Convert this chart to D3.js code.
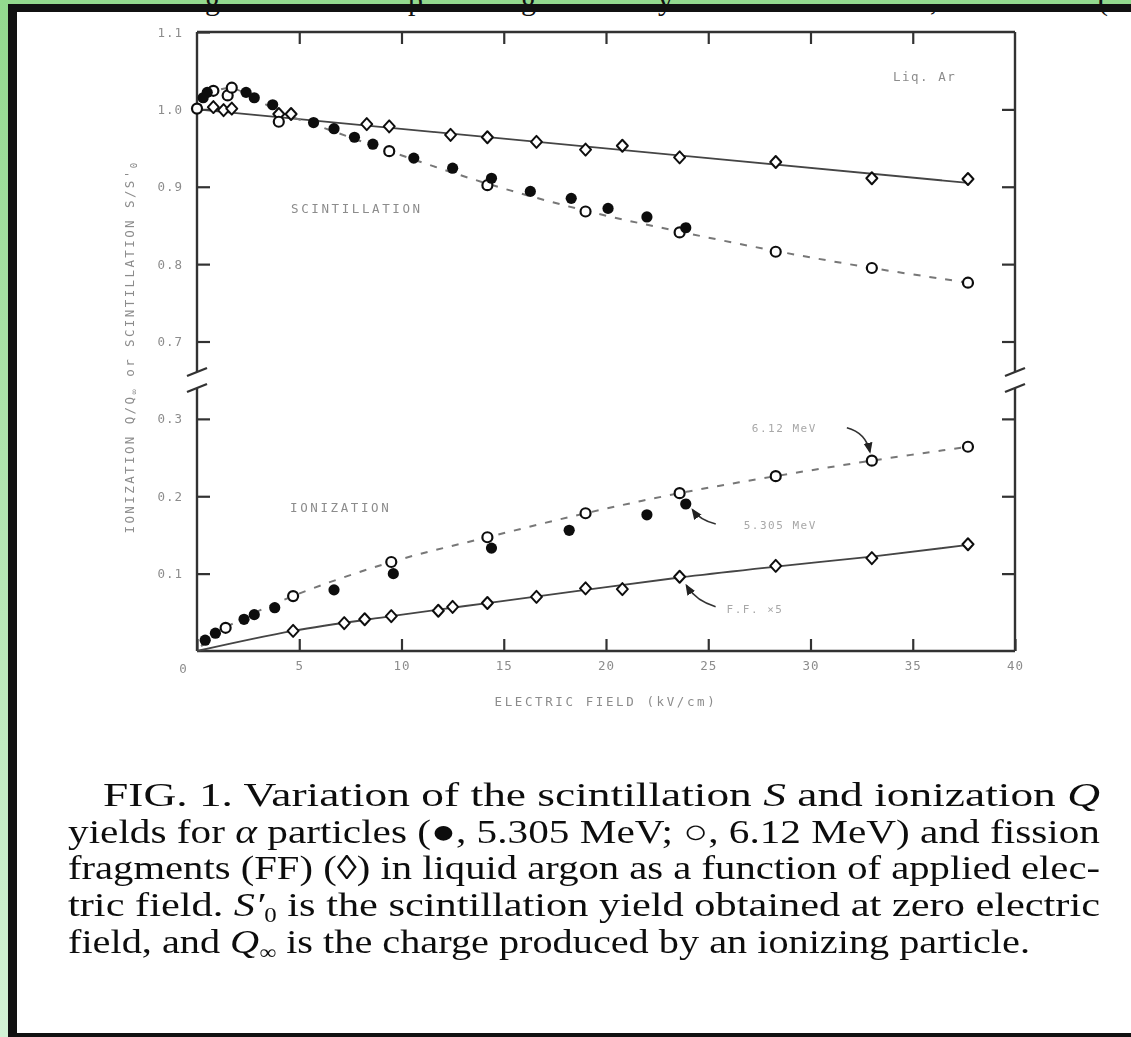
<!DOCTYPE html>
<html>
<head>
<meta charset="utf-8">
<script src="https://cdn.jsdelivr.net/npm/d3@7"></script>
<style>
body { margin: 0; background: linear-gradient(#93d98e, #d3f2d5); }
svg { display: block; }
</style>
</head>
<body>
<svg id="chart" width="1131" height="1037"></svg>
<script>
// axis ticks
var xTicks = [0, 5, 10, 15, 20, 25, 30, 35, 40];
var yTicksHigh = [0.7, 0.8, 0.9, 1.0, 1.1];
var yTicksLow = [0.1, 0.2, 0.3];

// scintillation S/S'0 -- alpha 5.305 MeV (filled dots)
var scintA5X = [0.3, 0.5, 2.4, 2.8, 3.7, 5.7, 6.7, 7.7, 8.6, 10.6, 12.5, 14.4, 16.3, 18.3, 20.1, 22.0, 23.9];
var scintA5Y = [1.015, 1.022, 1.022, 1.015, 1.006, 0.983, 0.975, 0.964, 0.955, 0.937, 0.924, 0.911, 0.894, 0.885, 0.872, 0.861, 0.847];
// scintillation -- alpha 6.12 MeV (open circles)
var scintA6X = [0, 0.8, 1.5, 1.7, 4.0, 9.4, 14.2, 19.0, 23.6, 28.3, 33.0, 37.7];
var scintA6Y = [1.001, 1.024, 1.018, 1.028, 0.984, 0.946, 0.902, 0.868, 0.841, 0.816, 0.795, 0.776];
// scintillation -- fission fragments (diamonds)
var scintFFX = [0.8, 1.3, 1.7, 4.0, 4.6, 8.3, 9.4, 12.4, 14.2, 16.6, 19.0, 20.8, 23.6, 28.3, 33.0, 37.7];
var scintFFY = [1.003, 0.999, 1.001, 0.994, 0.994, 0.981, 0.978, 0.967, 0.964, 0.958, 0.948, 0.953, 0.938, 0.932, 0.911, 0.910];
// drawn curves (scintillation)
var scintFFLineX = [0, 37.7];
var scintFFLineY = [1.0, 0.905];
var scintACurveX = [0, 0.8, 1.7, 2.8, 4.0, 6.0, 9.4, 14.2, 19.0, 23.6, 28.3, 33.0, 37.7];
var scintACurveY = [1.0, 1.022, 1.027, 1.015, 0.997, 0.978, 0.946, 0.904, 0.869, 0.842, 0.817, 0.795, 0.776];

// ionization Q/Q_inf -- alpha 5.305 MeV (filled)
var ionA5X = [0.4, 0.9, 2.3, 2.8, 3.8, 6.7, 9.6, 14.4, 18.2, 22.0, 23.9];
var ionA5Y = [0.014, 0.023, 0.041, 0.047, 0.056, 0.079, 0.100, 0.133, 0.156, 0.176, 0.190];
// ionization -- alpha 6.12 MeV (open)
var ionA6X = [1.4, 4.7, 9.5, 14.2, 19.0, 23.6, 28.3, 33.0, 37.7];
var ionA6Y = [0.030, 0.071, 0.115, 0.147, 0.178, 0.204, 0.226, 0.246, 0.264];
// ionization -- fission fragments (diamonds)
var ionFFX = [4.7, 7.2, 8.2, 9.5, 11.8, 12.5, 14.2, 16.6, 19.0, 20.8, 23.6, 28.3, 33.0, 37.7];
var ionFFY = [0.026, 0.036, 0.041, 0.045, 0.052, 0.057, 0.062, 0.070, 0.081, 0.080, 0.096, 0.110, 0.120, 0.138];
// drawn curves (ionization)
var ionFFLineX = [0, 4.7, 9.5, 14.2, 19.0, 23.6, 28.3, 33.0, 37.7];
var ionFFLineY = [0, 0.026, 0.045, 0.062, 0.079, 0.095, 0.109, 0.122, 0.137];
var ionACurveX = [0.2, 1.4, 4.7, 9.5, 14.2, 19.0, 23.6, 28.3, 33.0, 37.7];
var ionACurveY = [0.006, 0.030, 0.071, 0.115, 0.147, 0.178, 0.204, 0.226, 0.246, 0.264];

var svg = d3.select("#chart");

var defs = svg.append("defs");
defs.append("filter").attr("id", "soft")
    .append("feGaussianBlur").attr("stdDeviation", 0.7);
defs.append("filter").attr("id", "softer")
    .append("feGaussianBlur").attr("stdDeviation", 0.35);
defs.append("marker").attr("id", "head")
    .attr("viewBox", "0 0 10 10").attr("refX", 8).attr("refY", 5)
    .attr("markerWidth", 7).attr("markerHeight", 7).attr("orient", "auto")
    .append("path").attr("d", "M0,1 L10,5 L0,9 Z").attr("fill", "#222");

// page + frame
svg.append("rect").attr("x", 17).attr("y", 12).attr("width", 1120).attr("height", 1021).attr("fill", "#fff");
// bottom of a cut-off text line above the frame
var cut = svg.append("g").attr("font-family", "Liberation Serif").attr("font-size", 30).attr("fill", "#111");
[["g", 205], ["p", 408], ["g", 521], ["y", 658], [",", 930], ["(", 1098]].forEach(function(c) {
    cut.append("text").attr("x", c[1]).attr("y", 10).text(c[0]);
});
svg.append("rect").attr("x", 8).attr("y", 4).attr("width", 1130).attr("height", 8).attr("fill", "#111");
svg.append("rect").attr("x", 8).attr("y", 4).attr("width", 9).attr("height", 1040).attr("fill", "#111");
svg.append("rect").attr("x", 8).attr("y", 1033).attr("width", 1130).attr("height", 6).attr("fill", "#111");

var left = 197, right = 1015, plotTop = 32, bottom = 651;
var x = d3.scaleLinear().domain([0, 40]).range([left, right]);
var yLow = d3.scaleLinear().domain([0, 0.3]).range([bottom, bottom - 0.3 * 773.75]);
var yHigh = d3.scaleLinear().domain([0.7, 1.1]).range([bottom - 0.4 * 773.75, plotTop]);

var g = svg.append("g").attr("filter", "url(#soft)");

// axes
var tickFont = "DejaVu Sans Mono";
function styleAxis(sel) {
    sel.select(".domain").remove();
    sel.selectAll(".tick line").attr("stroke", "#333").attr("stroke-width", 2.2);
    sel.selectAll(".tick text").attr("fill", "#8c8c8c").attr("font-family", tickFont)
        .attr("font-size", 12.5).attr("letter-spacing", 1);
}
g.append("g").attr("transform", "translate(0," + bottom + ")")
    .call(d3.axisBottom(x).tickValues(xTicks).tickSize(-12).tickSizeOuter(0).tickPadding(10)
        .tickFormat(function(d) { return d === 0 ? "" : d; }))
    .call(styleAxis);
g.append("g").attr("transform", "translate(0," + plotTop + ")")
    .call(d3.axisTop(x).tickValues(xTicks.slice(1, -1)).tickSize(-12).tickSizeOuter(0).tickFormat(""))
    .call(styleAxis);
g.append("g").attr("transform", "translate(" + left + ",0)")
    .call(d3.axisLeft(yHigh).tickValues(yTicksHigh).tickSize(-13).tickSizeOuter(0).tickPadding(14)
        .tickFormat(d3.format(".1f")))
    .call(styleAxis);
g.append("g").attr("transform", "translate(" + left + ",0)")
    .call(d3.axisLeft(yLow).tickValues(yTicksLow).tickSize(-13).tickSizeOuter(0).tickPadding(14)
        .tickFormat(d3.format(".1f")))
    .call(styleAxis);
g.append("g").attr("transform", "translate(" + right + ",0)")
    .call(d3.axisRight(yHigh).tickValues(yTicksHigh.slice(0, -1)).tickSize(-13).tickSizeOuter(0).tickFormat(""))
    .call(styleAxis);
g.append("g").attr("transform", "translate(" + right + ",0)")
    .call(d3.axisRight(yLow).tickValues(yTicksLow).tickSize(-13).tickSizeOuter(0).tickFormat(""))
    .call(styleAxis);
g.append("text").attr("x", x(0) - 14).attr("y", bottom + 22).attr("text-anchor", "middle")
    .attr("fill", "#8c8c8c").attr("font-family", tickFont).attr("font-size", 12.5).text("0");

// frame lines with the axis break
var brkA = 372, brkB = 388;
var frame = g.append("g").attr("stroke", "#333").attr("stroke-width", 2.4).attr("fill", "none");
frame.append("line").attr("x1", left).attr("x2", right).attr("y1", plotTop).attr("y2", plotTop);
frame.append("line").attr("x1", left).attr("x2", right).attr("y1", bottom).attr("y2", bottom);
[left, right].forEach(function(px) {
    frame.append("line").attr("x1", px).attr("x2", px).attr("y1", plotTop).attr("y2", brkA);
    frame.append("line").attr("x1", px).attr("x2", px).attr("y1", brkB).attr("y2", bottom);
    frame.append("line").attr("x1", px - 10).attr("x2", px + 10).attr("y1", brkA + 4).attr("y2", brkA - 4);
    frame.append("line").attr("x1", px - 10).attr("x2", px + 10).attr("y1", brkB + 4).attr("y2", brkB - 4);
});

// curves
function pts(xs, ys) { return xs.map(function(v, i) { return [v, ys[i]]; }); }
function lineFor(ys, curve) {
    return d3.line().x(function(d) { return x(d[0]); }).y(function(d) { return ys(d[1]); }).curve(curve);
}
g.append("path").datum(pts(scintFFLineX, scintFFLineY))
    .attr("d", lineFor(yHigh, d3.curveLinear)).attr("fill", "none").attr("stroke", "#444").attr("stroke-width", 1.8);
g.append("path").datum(pts(scintACurveX, scintACurveY))
    .attr("d", lineFor(yHigh, d3.curveCatmullRom)).attr("fill", "none").attr("stroke", "#777")
    .attr("stroke-width", 2).attr("stroke-dasharray", "7,9");
g.append("path").datum(pts(ionFFLineX, ionFFLineY))
    .attr("d", lineFor(yLow, d3.curveMonotoneX)).attr("fill", "none").attr("stroke", "#444").attr("stroke-width", 1.8);
g.append("path").datum(pts(ionACurveX, ionACurveY))
    .attr("d", lineFor(yLow, d3.curveCatmullRom)).attr("fill", "none").attr("stroke", "#777")
    .attr("stroke-width", 2).attr("stroke-dasharray", "7,9");

// markers
var diamond = "M0,-6 L5.5,0 L0,6 L-5.5,0 Z";
function diamonds(xs, ys, yScale) {
    g.append("g").selectAll("path").data(pts(xs, ys)).enter().append("path")
        .attr("d", diamond)
        .attr("transform", function(d) { return "translate(" + x(d[0]) + "," + yScale(d[1]) + ")"; })
        .attr("fill", "#fff").attr("stroke", "#111").attr("stroke-width", 2).attr("stroke-linejoin", "round");
}
function circles(xs, ys, yScale, filled) {
    g.append("g").selectAll("circle").data(pts(xs, ys)).enter().append("circle")
        .attr("cx", function(d) { return x(d[0]); })
        .attr("cy", function(d) { return yScale(d[1]); })
        .attr("r", filled ? 5.6 : 5)
        .attr("fill", filled ? "#111" : "#fff")
        .attr("stroke", "#111").attr("stroke-width", filled ? 0 : 2.2);
}
diamonds(scintFFX, scintFFY, yHigh);
diamonds(ionFFX, ionFFY, yLow);
circles(scintA6X, scintA6Y, yHigh, false);
circles(ionA6X, ionA6Y, yLow, false);
circles(scintA5X, scintA5Y, yHigh, true);
circles(ionA5X, ionA5Y, yLow, true);

// labels
var lab = g.append("g").attr("fill", "#8c8c8c").attr("font-family", tickFont).attr("font-size", 12.5);
lab.append("text").attr("x", 291).attr("y", 213).attr("letter-spacing", 2.6).text("SCINTILLATION");
lab.append("text").attr("x", 290).attr("y", 512).attr("letter-spacing", 2.6).text("IONIZATION");
lab.append("text").attr("x", 893).attr("y", 81).attr("letter-spacing", 1.5).text("Liq. Ar");
lab.append("text").attr("x", x(20)).attr("y", 706).attr("text-anchor", "middle").attr("letter-spacing", 2.6)
    .text("ELECTRIC FIELD  (kV/cm)");
var yt = lab.append("text").attr("transform", "translate(134,347) rotate(-90)")
    .attr("text-anchor", "middle").attr("letter-spacing", 2.4);
yt.append("tspan").text("IONIZATION Q/Q");
yt.append("tspan").attr("font-size", 9).attr("dy", 3).text("\u221E");
yt.append("tspan").attr("dy", -3).text("  or  SCINTILLATION S/S'");
yt.append("tspan").attr("font-size", 9).attr("dy", 3).text("0");

// curve annotations with arrows
var note = g.append("g").attr("fill", "#a8a8a8").attr("font-family", tickFont).attr("font-size", 11).attr("letter-spacing", 1.5);
var arr = g.append("g").attr("fill", "none").attr("stroke", "#333").attr("stroke-width", 1.6);
var p1 = [x(33.0), yLow(0.246)];
note.append("text").attr("x", p1[0] - 120).attr("y", p1[1] - 29).text("6.12 MeV");
arr.append("path").attr("d", "M" + (p1[0] - 25) + "," + (p1[1] - 33) + " Q" + (p1[0] - 6) + "," + (p1[1] - 28) + " " + (p1[0] - 2) + "," + (p1[1] - 9))
    .attr("marker-end", "url(#head)");
var p2 = [x(23.9), yLow(0.190)];
note.append("text").attr("x", p2[0] + 58).attr("y", p2[1] + 25).text("5.305 MeV");
arr.append("path").attr("d", "M" + (p2[0] + 30) + "," + (p2[1] + 20) + " Q" + (p2[0] + 14) + "," + (p2[1] + 16) + " " + (p2[0] + 7) + "," + (p2[1] + 6))
    .attr("marker-end", "url(#head)");
var p3 = [x(23.6), yLow(0.096)];
note.append("text").attr("x", p3[0] + 47).attr("y", p3[1] + 36).text("F.F. \u00D75");
arr.append("path").attr("d", "M" + (p3[0] + 36) + "," + (p3[1] + 30) + " Q" + (p3[0] + 16) + "," + (p3[1] + 24) + " " + (p3[0] + 7) + "," + (p3[1] + 9))
    .attr("marker-end", "url(#head)");

// caption
var cap = svg.append("g").attr("filter", "url(#softer)").attr("font-family", "Liberation Serif")
    .attr("font-size", 34).attr("fill", "#111");
function capLine(x0, y0, w, parts) {
    var t = cap.append("text").attr("x", x0).attr("y", y0);
    if (w) t.attr("textLength", w).attr("lengthAdjust", "spacingAndGlyphs");
    parts.forEach(function(p) {
        var s = t.append("tspan").text(p[0]);
        if (p[1] === "i") s.attr("font-style", "italic");
        if (p[1] === "sub") s.attr("font-size", 20).attr("dy", 6);
        if (p[1] === "up") s.attr("dy", -6);
    });
}
capLine(103, 806, 997, [["FIG. 1.  Variation of the scintillation "], ["S", "i"], [" and ionization "], ["Q", "i"]]);
capLine(68, 843, 1032, [["yields for "], ["\u03B1", "i"], [" particles (\u25CF, 5.305 MeV; \u25CB, 6.12 MeV) and fission"]]);
capLine(68, 879, 1032, [["fragments (FF) (\u25CA) in liquid argon as a function of applied elec-"]]);
capLine(68, 916, 1032, [["tric field.  "], ["S\u2032", "i"], ["0", "sub"], [" is the scintillation yield obtained at zero electric", "up"]]);
capLine(68, 953, 962, [["field, and "], ["Q", "i"], ["\u221E", "sub"], [" is the charge produced by an ionizing particle.", "up"]]);
</script>
</body>
</html>
